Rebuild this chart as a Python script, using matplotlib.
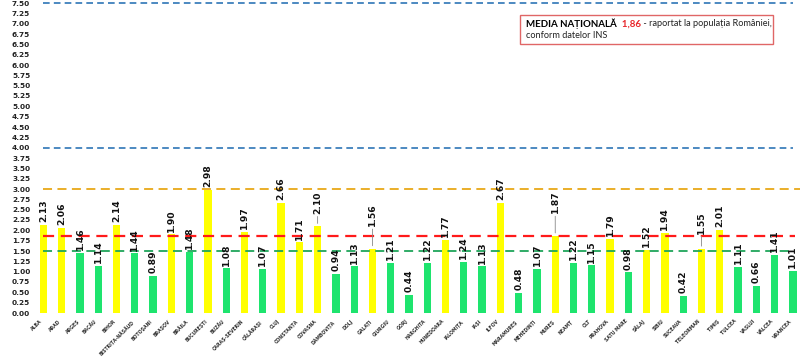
import matplotlib
matplotlib.use("Agg")
import matplotlib.pyplot as plt
from matplotlib.patches import Rectangle
from matplotlib.text import Annotation

counties = ["ALBA", "ARAD", "ARGEȘ", "BACĂU", "BIHOR", "BISTRIȚA-NĂSĂUD", "BOTOȘANI",
            "BRAȘOV", "BRĂILA", "BUCUREȘTI", "BUZĂU", "CARAȘ-SEVERIN", "CĂLĂRAȘI", "CLUJ",
            "CONSTANȚA", "COVASNA", "DÂMBOVIȚA", "DOLJ", "GALAȚI", "GIURGIU", "GORJ",
            "HARGHITA", "HUNEDOARA", "IALOMIȚA", "IAȘI", "ILFOV", "MARAMUREȘ", "MEHEDINȚI",
            "MUREȘ", "NEAMȚ", "OLT", "PRAHOVA", "SATU MARE", "SĂLAJ", "SIBIU", "SUCEAVA",
            "TELEORMAN", "TIMIȘ", "TULCEA", "VASLUI", "VÂLCEA", "VRANCEA"]
rates = [2.13, 2.06, 1.46, 1.14, 2.14, 1.44, 0.89, 1.90, 1.48, 2.98, 1.08, 1.97, 1.07, 2.66,
         1.71, 2.10, 0.94, 1.13, 1.56, 1.21, 0.44, 1.22, 1.77, 1.24, 1.13, 2.67, 0.48, 1.07,
         1.87, 1.22, 1.15, 1.79, 0.98, 1.52, 1.94, 0.42, 1.55, 2.01, 1.11, 0.66, 1.41, 1.01]
national_avg = 1.86
thresholds = {"blue_top": 7.5, "blue": 4.0, "orange": 3.0, "green": 1.5}
y_ticks = [i * 0.25 for i in range(31)]

# label offsets (points) for labels lifted with leader lines
lift = {"COVASNA": 7, "GALAȚI": 14, "MUREȘ": 14, "TELEORMAN": 9}

YELLOW = "#FFFF00"
GREEN = "#1EE46E"

fig = plt.figure(figsize=(8.0, 3.59), dpi=100)
ax = fig.add_axes([33 / 800, (359 - 313) / 359, 767 / 800, 310 / 359])

n = len(counties)
xs = list(range(n))
colors = [YELLOW if r > thresholds["green"] else GREEN for r in rates]
ax.bar(xs, rates, width=0.4, color=colors, zorder=2)

ax.set_xlim(-0.57, 41.39)
ax.set_ylim(0, 7.5)

# reference lines
ax.plot([0, n - 1], [thresholds["blue_top"]] * 2, color="#2E75B6", lw=1.2, ls=(0, (4, 2.5)), zorder=3, clip_on=False)
ax.plot([0, n - 1], [thresholds["blue"]] * 2, color="#2E75B6", lw=1.2, ls=(0, (4, 2.5)), zorder=3)
ax.plot([0, 41.4], [thresholds["orange"]] * 2, color="#E8A818", lw=1.3, ls=(0, (5, 3)), zorder=3)
ax.plot([0, n - 0.9], [national_avg] * 2, color="#FF1A1A", lw=1.6, ls=(0, (5, 3)), zorder=3)
ax.plot([0, n - 0.9], [thresholds["green"]] * 2, color="#1FA55A", lw=1.3, ls=(0, (5, 3)), zorder=3)

# value labels
for x, r, c in zip(xs, rates, counties):
    off = 2 + lift.get(c, 0)
    ax.annotate(f"{r:.2f}", (x, r), xytext=(0, off), textcoords="offset points",
                rotation=90, ha="center", va="bottom", fontsize=6.6, fontweight="bold",
                color="#111111", zorder=4)
    if c in lift:
        ax.annotate("", (x, r), xytext=(0, off), textcoords="offset points",
                    arrowprops=dict(arrowstyle="-", color="#888888", lw=0.6))

ax.set_yticks(y_ticks)
ax.set_yticklabels([f"{v:.2f}" for v in y_ticks], fontsize=5.3, fontweight="bold", color="#222222")
ax.set_xticks(xs)
ax.set_xticklabels(counties, rotation=45, ha="right", va="top", fontsize=3.3,
                   fontweight="bold", color="#333333")
ax.tick_params(axis="both", length=0, pad=2)
ax.tick_params(axis="x", pad=4)
for s in ax.spines.values():
    s.set_visible(False)

# info box
BOX_FONT = ["Lato", "DejaVu Sans"]
box_l, box_b, box_w, box_h = 520 / 800, (359 - 44) / 359, 253 / 800, 29 / 359
fig.patches.append(Rectangle((box_l, box_b), box_w, box_h, transform=fig.transFigure,
                             facecolor="white", edgecolor="#E06666", lw=1.0, zorder=5))
t1 = fig.text(526 / 800, (359 - 24) / 359, "MEDIA NAȚIONALĂ", fontsize=7, fontweight="bold",
              family=BOX_FONT, color="black", va="center", ha="left", zorder=6)
an2 = Annotation("  1,86", xy=(1, 0.5), xycoords=t1, va="center", ha="left", fontsize=7,
                 family=BOX_FONT, fontweight="bold", color="#E8262A", zorder=6)
fig.add_artist(an2)
an3 = Annotation(" - raportat la populația României,", xy=(1, 0.5), xycoords=an2, va="center",
                 ha="left", fontsize=6.6, family=BOX_FONT, color="#222222", zorder=6)
fig.add_artist(an3)
fig.text(526 / 800, (359 - 36) / 359, "conform datelor INS", fontsize=6.6, family=BOX_FONT,
         color="#222222", va="center", ha="left", zorder=6)

fig.savefig("out.png", dpi=100)
